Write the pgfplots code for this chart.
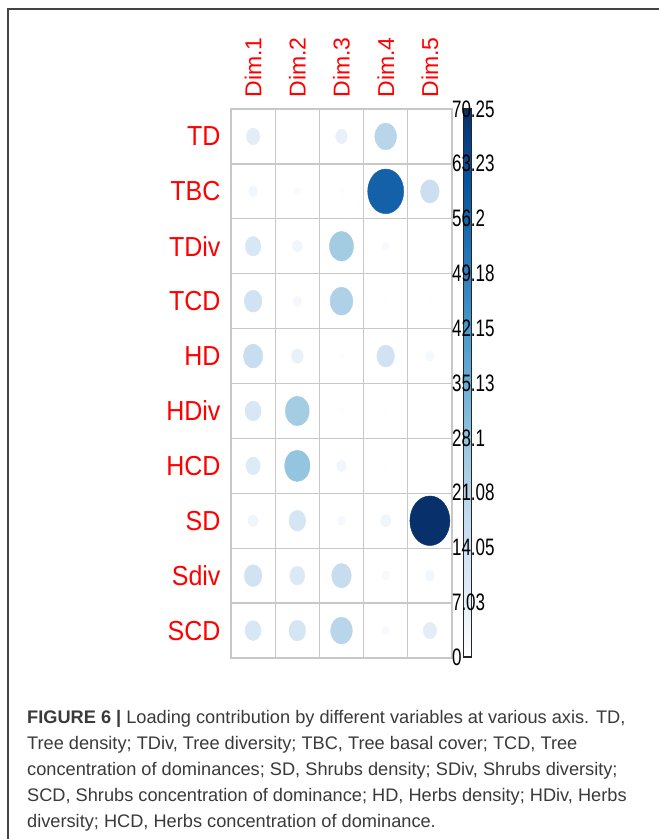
\documentclass[border=0pt]{standalone}
\usepackage{pgfplots}
\pgfplotsset{compat=1.18}
\usepackage{pgfplotstable}
\usepackage{fontspec}
\setmainfont{Liberation Sans}
\definecolor{capgray}{HTML}{3A3A3A}
\definecolor{framegray}{HTML}{444444}
\definecolor{gridgray}{HTML}{C8C8C8}
\definecolor{lblred}{HTML}{FF0000}
% x = dimension, y = row (10 = TD at top ... 1 = SCD at bottom), v = contribution
\pgfplotstableread{
x y v
1 10 7.8
2 10 0.5
3 10 6.0
4 10 20.6
5 10 0.3
1 9 3.6
2 9 1.8
3 9 1.0
4 9 57.0
5 9 15.3
1 8 10.8
2 8 4.1
3 8 25.3
4 8 2.0
5 8 0.3
1 7 13.7
2 7 3.0
3 7 22.6
4 7 0.3
5 7 0.3
1 6 16.4
2 6 6.0
3 6 0.8
4 6 13.7
5 6 2.8
1 5 11.2
2 5 25.0
3 5 0.8
4 5 0.5
5 5 0.3
1 4 9.0
2 4 28.0
3 4 3.8
4 4 0.3
5 4 0.3
1 3 4.4
2 3 12.2
3 3 2.6
4 3 4.4
5 3 70.25
1 2 13.7
2 2 9.9
3 2 17.0
4 2 2.4
5 2 3.6
1 1 11.2
2 1 12.2
3 1 20.6
4 1 2.0
5 1 7.8
}\loadings
\begin{document}
\begin{tikzpicture}
\useasboundingbox (0,0) rectangle (659pt,-839pt);
\fill[white] (0,0) rectangle (659pt,-839pt);
\draw[line width=1.6pt, color=framegray] (8pt,-839pt) -- (8pt,-9pt) -- (659pt,-9pt);
\begin{axis}[
  at={(231pt,-109pt)}, anchor=north west,
  scale only axis, width=221pt, height=549pt,
  xmin=0.5, xmax=5.5, ymin=0.5, ymax=10.5,
  clip=false,
  xtick={1,2,3,4,5},
  xticklabels={Dim.1,Dim.2,Dim.3,Dim.4,Dim.5},
  xticklabel pos=upper,
  xticklabel shift=8pt,
  ytick={1,...,10},
  yticklabels={SCD,Sdiv,SD,HCD,HDiv,HD,TCD,TDiv,TBC,TD},
  yticklabel shift=7pt,
  major tick length=0pt, minor tick length=0pt,
  minor xtick={1.5,2.5,3.5,4.5},
  minor ytick={1.5,2.5,...,9.5},
  xminorgrids, yminorgrids,
  minor grid style={draw=gridgray, line width=1.3pt},
  axis line style={draw=gridgray, line width=1.3pt},
  xticklabel style={font=\fontsize{23}{23}\selectfont, text=lblred, rotate=90, anchor=west},
  yticklabel style={font=\fontsize{25}{25}\selectfont, text=lblred, anchor=east, yscale=1.1},
  colormap={blues}{rgb255=(255,255,255) rgb255=(222,235,247) rgb255=(198,219,239) rgb255=(158,202,225) rgb255=(107,174,214) rgb255=(66,146,198) rgb255=(33,113,181) rgb255=(8,81,156) rgb255=(8,48,107)},
  point meta min=0, point meta max=70.25,
  colorbar,
  colorbar style={
    at={(parent axis.north east)}, anchor=north west, xshift=3pt,
    scale only axis, width=8pt, height=548pt,
    ytick={0,7.03,14.05,21.08,28.1,35.13,42.15,49.18,56.2,63.23,70.25},
    yticklabels={0,7.03,14.05,21.08,28.1,35.13,42.15,49.18,56.2,63.23,70.25},
    yticklabel style={font=\fontsize{17}{17}\selectfont, text=black, anchor=west, xshift=-23pt, yscale=1.4},
    major tick length=0pt,
    axis line style={draw=black!85, line width=1.2pt},
  },
]
\addplot[scatter, only marks, mark=*, point meta=\thisrow{v},
  scatter/use mapped color={draw=mapped color, fill=mapped color},
  visualization depends on={20*sqrt(\thisrow{v}/70.25) \as \msize},
  scatter/@pre marker code/.append style={/tikz/mark size=\msize pt},
  mark options={yscale=1.24}] table[x=x,y=y] {\loadings};
\end{axis}
\begin{scope}[every node/.style={anchor=base west, inner sep=0pt, font=\fontsize{18.2}{18.2}\selectfont, text=capgray}]
\node at (27pt,-723pt) {\textbf{FIGURE 6 |} Loading contribution by different variables at various axis. TD,};
\node at (27pt,-749pt) {Tree density; TDiv, Tree diversity; TBC, Tree basal cover; TCD, Tree};
\node at (27pt,-775pt) {concentration of dominances; SD, Shrubs density; SDiv, Shrubs diversity;};
\node at (27pt,-801pt) {SCD, Shrubs concentration of dominance; HD, Herbs density; HDiv, Herbs};
\node at (27pt,-827pt) {diversity; HCD, Herbs concentration of dominance.};
\end{scope}
\end{tikzpicture}
\end{document}
